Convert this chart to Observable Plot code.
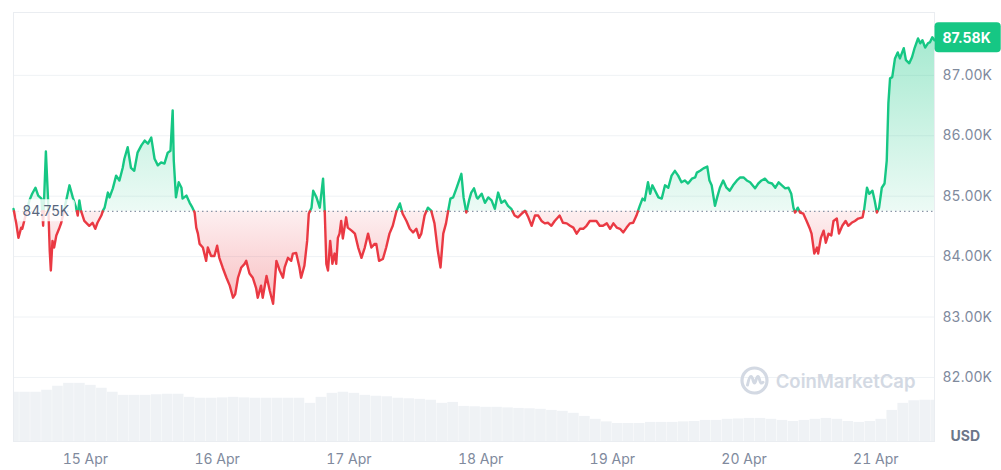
<!DOCTYPE html>
<html><head><meta charset="utf-8">
<script src="https://cdn.jsdelivr.net/npm/d3@7"></script>
<script src="https://cdn.jsdelivr.net/npm/@observablehq/plot@0.6"></script>
<style>
html,body{margin:0;padding:0;background:#fff;}
#wrap{position:relative;width:1001px;height:470px;overflow:hidden;font-family:Inter,sans-serif;}
#wrap svg.chart{position:absolute;left:0;top:0;}
</style></head><body><div id="wrap"></div>
<script>
// hours since 14 Apr 2025 00:00 UTC
const hours = [
10.9,11.4,11.8,12.3,12.5,13.1,13.8,14.3,14.9,15.4,
16.0,16.3,16.8,17.2,17.5,17.7,18.0,18.3,18.7,19.2,
19.6,20.1,20.5,21.1,21.7,22.3,22.6,22.9,23.2,23.8,
24.7,25.3,25.8,26.2,26.9,27.2,27.5,28.1,28.4,29.0,
29.6,30.2,30.8,31.1,31.7,32.3,32.9,33.5,34.2,34.8,
35.4,36.0,36.6,37.2,37.8,38.4,39.0,39.5,39.9,40.1,
40.5,41.0,41.5,41.7,42.4,43.0,43.5,43.9,44.2,44.5,
44.8,45.4,46.0,46.3,46.9,47.5,48.0,48.4,49.0,49.7,
50.3,50.9,51.3,51.8,52.4,53.0,53.3,53.9,54.5,55.1,
55.4,56.0,56.3,57.0,57.6,58.2,58.8,59.4,60.0,60.3,
60.9,61.5,61.8,62.4,63.0,63.3,63.9,64.4,64.7,65.2,
65.5,66.1,66.7,67.3,67.6,67.9,68.2,68.6,69.0,69.4,
69.7,70.0,70.3,70.6,70.9,71.5,71.8,72.5,73.1,73.7,
74.3,74.9,75.5,76.1,76.7,77.0,77.5,78.2,78.8,79.4,
80.0,80.7,81.3,81.8,82.5,83.1,83.7,84.3,84.8,85.2,
85.8,86.4,87.0,87.6,88.2,88.7,89.2,89.7,90.1,90.5,
91.0,91.6,92.1,92.5,92.9,93.4,93.9,94.3,94.8,95.3,
95.5,96.2,96.8,97.4,98.0,98.6,99.2,99.8,100.4,101.0,
101.6,102.2,102.8,103.5,104.1,104.7,105.3,105.9,106.5,107.1,
107.7,108.3,108.9,109.5,110.4,111.0,111.7,112.3,112.9,113.5,
114.1,114.7,115.3,115.9,116.5,117.1,117.7,118.3,119.0,119.6,
120.2,120.8,121.4,122.0,122.6,123.2,123.8,124.4,124.7,125.0,
125.5,125.9,126.5,126.9,127.3,127.8,128.4,129.0,129.6,130.2,
130.8,131.4,132.0,132.6,133.2,133.8,134.5,135.1,135.4,136.0,
136.6,137.3,137.7,138.1,138.7,139.1,139.6,140.2,140.8,141.4,
142.0,142.7,143.3,143.9,144.5,145.1,146.0,146.6,147.2,147.8,
148.4,149.1,149.7,150.3,150.9,151.5,152.1,152.6,153.0,153.3,
153.8,154.2,154.8,155.4,156.0,156.3,156.8,157.3,157.5,158.0,
158.5,158.9,159.4,159.9,160.3,160.9,161.3,161.9,162.5,163.0,
163.6,164.2,164.8,165.6,165.9,166.4,166.8,167.4,167.8,168.2,
168.6,169.1,169.6,170.0,170.3,170.6,171.0,171.5,172.0,172.4,
173.1,173.5,174.1,174.6,175.1,175.7,176.1,176.5,177.0,177.5,
177.9,178.3,178.7
];
// BTC price in thousands USD
const prices = [
84.79,84.55,84.31,84.48,84.46,84.68,84.93,85.04,85.14,85.01,
84.96,84.51,85.74,84.93,84.10,83.77,84.26,84.15,84.35,84.46,
84.56,84.76,84.93,85.18,84.98,84.81,84.68,84.93,84.76,84.59,
84.51,84.56,84.46,84.56,84.68,84.76,84.81,85.06,84.98,85.13,
85.34,85.26,85.47,85.62,85.81,85.47,85.42,85.72,85.84,85.92,
85.87,85.97,85.62,85.51,85.56,85.54,85.72,85.75,86.42,85.59,
84.98,85.23,85.14,84.96,85.01,84.89,84.81,84.73,84.48,84.38,
84.21,84.15,83.93,84.15,84.01,84.01,84.18,83.98,83.82,83.65,
83.52,83.32,83.38,83.65,83.82,83.88,83.93,83.72,83.65,83.48,
83.32,83.52,83.32,83.68,83.43,83.22,83.93,83.77,83.65,83.82,
83.98,83.93,84.05,84.06,83.82,83.65,83.85,84.26,84.71,84.81,
85.09,84.98,84.81,85.29,84.76,83.88,83.77,84.26,83.88,84.05,
83.88,84.31,84.38,84.59,84.30,84.65,84.48,84.43,84.38,84.15,
83.98,84.15,84.38,84.15,84.21,84.21,83.93,83.96,84.15,84.38,
84.51,84.76,84.88,84.71,84.59,84.46,84.40,84.46,84.31,84.38,
84.68,84.81,84.76,84.55,84.10,83.82,84.38,84.55,84.76,84.96,
84.98,85.13,85.26,85.37,84.98,84.73,84.93,85.06,85.13,84.98,
84.96,85.04,84.89,84.98,84.93,84.79,85.06,84.89,84.93,84.84,
84.79,84.68,84.65,84.71,84.76,84.65,84.51,84.68,84.68,84.59,
84.55,84.56,84.51,84.59,84.68,84.56,84.55,84.51,84.48,84.38,
84.46,84.46,84.51,84.59,84.59,84.59,84.51,84.51,84.55,84.46,
84.55,84.48,84.46,84.40,84.48,84.55,84.56,84.68,84.76,84.84,
84.96,84.93,85.23,85.04,85.18,85.09,84.98,84.96,85.18,85.14,
85.34,85.42,85.34,85.23,85.26,85.21,85.29,85.31,85.39,85.42,
85.46,85.49,85.26,85.18,84.84,84.98,85.14,85.26,85.14,85.09,
85.18,85.26,85.31,85.31,85.26,85.23,85.13,85.21,85.26,85.29,
85.23,85.21,85.14,85.23,85.18,85.13,85.14,85.04,84.81,84.73,
84.81,84.73,84.71,84.59,84.46,84.38,84.05,84.15,84.05,84.31,
84.43,84.23,84.38,84.35,84.59,84.63,84.38,84.51,84.59,84.51,
84.56,84.59,84.63,84.65,84.79,85.14,85.04,85.09,84.93,84.73,
84.81,85.14,85.21,85.59,86.54,86.95,86.97,87.28,87.38,87.28,
87.45,87.25,87.20,87.30,87.46,87.61,87.53,87.58,87.46,87.53,
87.55,87.63,87.58
];
// 2-hour volume bars (billions USD), starting 14 Apr 10:00 UTC
const volume = [
27.1,27.1,27.1,28.2,30.4,32.0,32.0,30.9,29.3,27.1,
25.4,25.4,25.4,25.7,26.0,26.0,24.3,23.8,23.8,24.0,
24.3,24.0,23.8,23.8,23.8,23.8,23.8,21.0,24.3,26.5,
27.1,26.5,25.4,24.9,24.6,23.8,23.5,23.2,22.7,21.0,
21.5,19.3,19.1,18.8,18.8,18.5,18.2,18.0,17.7,17.1,
16.6,15.5,13.8,12.2,10.8,9.9,9.9,9.9,10.5,10.5,
10.5,10.8,11.0,11.6,11.6,12.2,12.4,12.7,12.7,12.2,
11.6,11.0,11.6,12.2,12.7,12.2,11.0,10.5,11.0,12.2,
17.1,21.0,22.4,22.7,22.7
];
const baseline = 84.75;
const yTicks = [82, 83, 84, 85, 86, 87];
const currency = "USD";
const brand = "CoinMarketCap";

const t0 = Date.UTC(2025, 3, 14);
const toDate = h => new Date(t0 + h * 3600000);
const series = hours.map((h, i) => ({t: toDate(h), p: prices[i]}));
const vols = volume.map((v, i) => ({t: toDate(10 + 2 * i), t2: toDate(12 + 2 * i), v}));
const xDomain = d3.extent(series, d => d.t);
const dayTicks = d3.utcDay.range(xDomain[0], xDomain[1]);

// split line into runs above / below the baseline, adding the crossing points
const runs = [];
let cur = null;
for (let i = 0; i < series.length; i++) {
  const d = series[i];
  const side = d.p >= baseline ? "up" : "down";
  if (!cur) { cur = {side, pts: [d]}; continue; }
  if (side !== cur.side) {
    const a = series[i - 1];
    const f = (baseline - a.p) / (d.p - a.p);
    const c = {t: new Date(+a.t + f * (d.t - a.t)), p: baseline};
    cur.pts.push(c); runs.push(cur);
    cur = {side, pts: [c, d]};
  } else cur.pts.push(d);
}
runs.push(cur);
const segs = runs.flatMap((r, k) => r.pts.map(d => ({...d, run: k, side: r.side})));
const segUp = segs.filter(d => d.side === "up");
const segDown = segs.filter(d => d.side === "down");

const W = 1001, H = 470;
const margins = {marginTop: 12, marginRight: 67, marginBottom: 29, marginLeft: 13};
const font = "Inter, sans-serif";

const volChart = Plot.plot({
  width: W, height: H, ...margins,
  style: {background: "transparent", fontFamily: font},
  x: {type: "utc", domain: xDomain, axis: null},
  y: {domain: [0, 236], axis: null},
  marks: [
    Plot.rectY(vols, {x1: "t", x2: "t2", y: "v", fill: "#eff2f5", insetLeft: 0.2, insetRight: 0.2, clip: true})
  ]
});
volChart.classList.add("chart");

const chart = Plot.plot({
  width: W, height: H, ...margins,
  style: {background: "transparent", fontFamily: font, fontSize: "14px"},
  x: {type: "utc", domain: xDomain, axis: null},
  y: {domain: [80.94, 88.04], axis: null},
  marks: [
    Plot.ruleY(yTicks, {stroke: "#eff2f5"}),
    Plot.frame({stroke: "#eaedf1"}),
    Plot.areaY(segUp, {x: "t", y1: () => baseline, y2: "p", z: "run", fill: "url(#gradUp)"}),
    Plot.areaY(segDown, {x: "t", y1: () => baseline, y2: "p", z: "run", fill: "url(#gradDown)"}),
    Plot.ruleY([baseline], {stroke: "#8c96a8", strokeDasharray: "1.5,3", strokeWidth: 1.2}),
    Plot.lineY(segUp, {x: "t", y: "p", z: "run", stroke: "#16c784", strokeWidth: 2.4}),
    Plot.lineY(segDown, {x: "t", y: "p", z: "run", stroke: "#ea3943", strokeWidth: 2.4}),
    Plot.axisY(yTicks, {anchor: "right", tickSize: 0, tickPadding: 8, tickFormat: d => d.toFixed(2) + "K", fill: "#808a9d", fontSize: 14, label: null}),
    Plot.axisX(dayTicks, {anchor: "bottom", tickSize: 0, tickPadding: 13, tickFormat: d3.utcFormat("%-d %b"), fill: "#808a9d", fontSize: 14, label: null}),
    Plot.text([baseline], {y: d => d, frameAnchor: "left", dx: 9, textAnchor: "start", text: d => d.toFixed(2) + "K", fill: "#58667e", fontSize: 14}),
    Plot.text([series[series.length - 1]], {x: "t", y: "p", dx: 8, dy: -2, textAnchor: "start", text: d => d.p.toFixed(2) + "K", fill: "white", fontSize: 14, fontWeight: 700}),
    Plot.text([currency], {frameAnchor: "bottom-right", dx: 16, dy: -5, textAnchor: "start", lineAnchor: "middle", text: d => d, fill: "#6c7689", fontSize: 14, fontWeight: 700}),
    Plot.text([brand], {frameAnchor: "bottom-right", dx: -19, dy: -59, textAnchor: "end", lineAnchor: "middle", text: d => d, fill: "#d3d9e3", fontSize: 18.5, fontWeight: 600})
  ]
});
chart.classList.add("chart");

const wrap = document.getElementById("wrap");
wrap.appendChild(volChart);
wrap.appendChild(chart);

// gradients in pixel space from the y scale
const ns = "http://www.w3.org/2000/svg";
const ys = chart.scale("y");
const yB = ys.apply(baseline), yHi = ys.apply(d3.max(prices)), yLo = ys.apply(d3.min(prices));
const defs = document.createElementNS(ns, "defs");
defs.innerHTML =
  `<linearGradient id="gradUp" gradientUnits="userSpaceOnUse" x1="0" x2="0" y1="${yHi}" y2="${yB}">` +
  `<stop offset="0" stop-color="#16c784" stop-opacity="0.38"/><stop offset="1" stop-color="#16c784" stop-opacity="0.08"/></linearGradient>` +
  `<linearGradient id="gradDown" gradientUnits="userSpaceOnUse" x1="0" x2="0" y1="${yB}" y2="${yLo}">` +
  `<stop offset="0" stop-color="#ea3943" stop-opacity="0.08"/><stop offset="1" stop-color="#ea3943" stop-opacity="0.32"/></linearGradient>`;
chart.insertBefore(defs, chart.firstChild);

// label boxes behind texts
function boxBehind(content, padL, padR, h, fill, opacity) {
  const t = [...chart.querySelectorAll("text")].find(e => e.textContent === content);
  if (!t) return;
  const b = t.getBBox();
  const r = document.createElementNS(ns, "rect");
  r.setAttribute("x", b.x - padL);
  r.setAttribute("width", b.width + padL + padR);
  r.setAttribute("y", b.y + b.height / 2 - h / 2);
  r.setAttribute("height", h);
  r.setAttribute("rx", 4);
  r.setAttribute("fill", fill);
  r.setAttribute("fill-opacity", opacity);
  if (t.getAttribute("transform")) r.setAttribute("transform", t.getAttribute("transform"));
  t.parentNode.insertBefore(r, t);
}
boxBehind(baseline.toFixed(2) + "K", 6, 5, 22, "#ffffff", 0.82);
boxBehind(prices[prices.length - 1].toFixed(2) + "K", 8, 10, 30, "#16c784", 1);

// brand logo (decoration)
const logo = document.createElementNS(ns, "svg");
logo.setAttribute("width", 29); logo.setAttribute("height", 29);
logo.setAttribute("viewBox", "0 0 29 29");
logo.setAttribute("style", "position:absolute;left:740px;top:366px;");
logo.innerHTML = `<circle cx="14.5" cy="14.5" r="12.5" fill="none" stroke="#d3d9e3" stroke-width="3.2"/>` +
  `<path d="M7.5 19 C8.5 14 9.5 10.5 11 10.5 C13 10.5 13 17 14.5 17 C16 17 16 10.5 18 10.5 C19.5 10.5 19.5 16.5 21 17 C21.8 17.2 22.5 16.8 23 16.3" fill="none" stroke="#d3d9e3" stroke-width="3" stroke-linecap="round"/>`;
wrap.appendChild(logo);
</script>
</body></html>
